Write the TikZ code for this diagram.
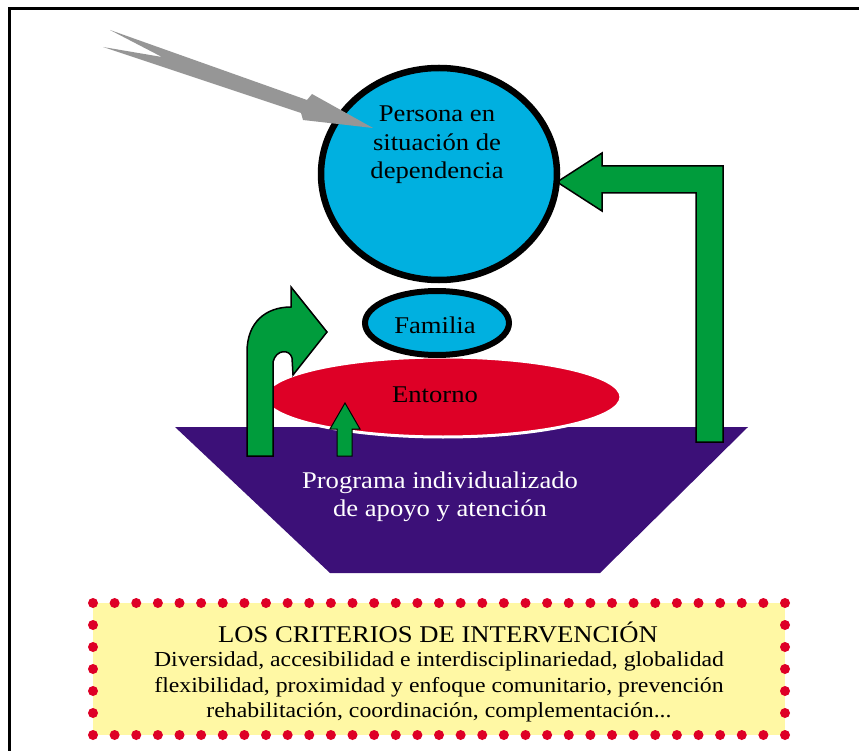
\documentclass[tikz,border=0pt]{standalone}
\usepackage{fontspec}
\setmainfont[FakeStretch=1.11]{Liberation Serif}
\usetikzlibrary{shapes.geometric}
\definecolor{cblue}{RGB}{0,176,224}
\definecolor{cred}{RGB}{222,0,38}
\definecolor{cgreen}{RGB}{0,156,60}
\definecolor{cpurple}{RGB}{60,16,120}
\definecolor{cyellow}{RGB}{255,248,164}
\definecolor{cgray}{RGB}{150,150,150}
\tikzset{
  bigtext/.style={font=\fontsize{24}{28.5}\selectfont, align=center, inner sep=0pt},
  bodytext/.style={font=\fontsize{21.4}{25.5}\selectfont, align=center, inner sep=0pt},
  greenarrow/.style={fill=cgreen, draw=black, line width=1.5pt, line join=miter},
  reddot/.style={fill=cred},
}
\begin{document}
\begin{tikzpicture}[x=1pt,y=-1pt]
\useasboundingbox (0,0) rectangle (859,751);
\begin{scope}
  \clip (0,0) rectangle (859,751);
  \draw[line width=3pt] (9,900) -- (9,9) -- (900,9);
\end{scope}
% base trapezoid
\fill[cpurple] (175,427) -- (748,427) -- (600,573) -- (330,573) -- cycle;
\node[bigtext, text=white] (programa) at (440,497) {Programa individualizado\\de apoyo y atención};
% entorno
\node[ellipse, fill=cred, draw=white, line width=3pt, minimum width=356, minimum height=80, inner sep=0pt] (entorno) at (443,397) {};
\node[bigtext] (entornotxt) at (435,395) {Entorno};
% right L arrow
\draw[greenarrow] (696,442) -- (696,193) -- (602,193) -- (602,211) -- (557,182) -- (602,153) -- (602,166) -- (723,166) -- (723,442) -- cycle;
% left curved arrow
\draw[greenarrow] (247,456) -- (247,352) .. controls (247,322) and (266,307) .. (291,307)
  -- (291,287) -- (327,332) -- (293,375) -- (292,358)
  .. controls (290,349) and (276,349) .. (273,362) -- (273,456) -- cycle;
% small up arrow
\draw[greenarrow, line width=1pt] (337,456) -- (337,429) -- (330,429) -- (345,403) -- (360,429) -- (352,429) -- (352,456) -- cycle;
% familia
\node[ellipse, fill=cblue, draw=black, line width=6pt, minimum width=144, minimum height=64, inner sep=0pt] (familia) at (437,323) {};
\node[bigtext] (familiatxt) at (435,325) {Familia};
% persona
\node[ellipse, fill=cblue, draw=black, line width=6.5pt, minimum width=236, minimum height=212, inner sep=0pt] (persona) at (439,174) {};
\node[bigtext] (personatxt) at (437,145) {Persona en\\situación de\\dependencia};
% gray arrow
\fill[cgray] (110,30) -- (307,100) -- (312,94) -- (373,128) -- (303,120) -- (301,113) -- (103,47) -- (162,57) -- cycle;
% criteria box
\fill[cyellow] (93,603) rectangle (785,735);
\foreach \i in {0,...,32} {
  \fill[reddot] ({93+\i*21.625},603) circle (5pt);
  \fill[reddot] ({93+\i*21.625},735) circle (5pt);
}
\foreach \i in {1,...,5} {
  \fill[reddot] (93,{603+\i*22}) circle (5pt);
  \fill[reddot] (785,{603+\i*22}) circle (5pt);
}
\node[bigtext] (titulo) at (438,632) {LOS CRITERIOS DE INTERVENCIÓN};
\node[bodytext] (criterios) at (439,687) {Diversidad, accesibilidad e interdisciplinariedad, globalidad\\flexibilidad, proximidad y enfoque comunitario, prevención\\rehabilitación, coordinación, complementación...};
\end{tikzpicture}
\end{document}
